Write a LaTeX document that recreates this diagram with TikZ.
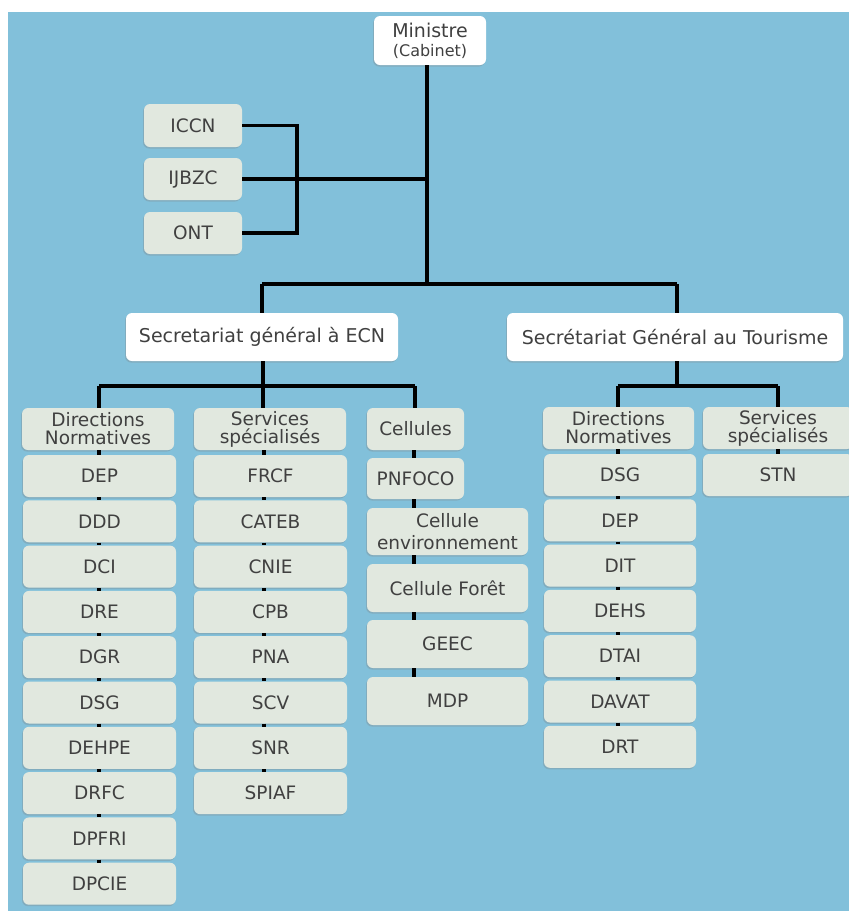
\documentclass[tikz,border=0pt]{standalone}
\usepackage{fontspec}
\setmainfont{DejaVu Sans}
\usetikzlibrary{shadows}
\definecolor{bg}{HTML}{82C0DA}
\definecolor{boxc}{HTML}{E1E8DF}
\definecolor{txt}{HTML}{404040}
\begin{document}
\begin{tikzpicture}[x=1pt,y=-1pt,
  box/.style={rectangle, rounded corners=6pt, fill=boxc, text=txt, align=center,
    inner sep=0pt, font=\fontsize{18.5}{21}\selectfont,
    drop shadow={opacity=0.3, shadow xshift=-1pt, shadow yshift=-1.5pt}},
  wbox/.style={box, fill=white},
  hdr/.style={box, font=\fontsize{18.5}{18}\selectfont},
  conn/.style={line width=3.5pt, black},
  colL/.style={box, minimum width=153pt, minimum height=42pt},
  colS/.style={box, minimum width=153pt, minimum height=42pt},
  colC/.style={box, minimum width=161pt, minimum height=47pt},
  colR/.style={box, minimum width=152pt, minimum height=42pt}]
\useasboundingbox (0,0) rectangle (849,911);
\fill[white] (0,0) rectangle (849,911);
\fill[bg] (8,12) rectangle (849,911);

% top
\node[wbox, minimum width=112pt, minimum height=49pt] (min) at (430,40.5)
  {\fontsize{19}{19}\selectfont Ministre\\[-2pt]\fontsize{16}{17}\selectfont (Cabinet)};
\node[box, minimum width=98pt, minimum height=43pt] (iccn) at (193,125.5) {ICCN};
\node[box, minimum width=98pt, minimum height=42pt] (ijbzc) at (193,179) {IJBZC};
\node[box, minimum width=98pt, minimum height=42pt] (ont) at (193,233) {ONT};
\node[wbox, minimum width=272pt, minimum height=48pt, font=\fontsize{19}{21}\selectfont] (ecn) at (262,337) {Secretariat général à ECN};
\node[wbox, minimum width=336pt, minimum height=48pt, font=\fontsize{19}{21}\selectfont] (sgt) at (675,337) {Secrétariat Général au Tourisme};

% ECN headers
\node[hdr, minimum width=152pt, minimum height=42pt] (dn1) at (98,429) {Directions\\Normatives};
\node[hdr, minimum width=152pt, minimum height=42pt] (ss1) at (270,429) {Services\\spécialisés};
\node[box, minimum width=97pt, minimum height=42pt] (cel) at (415.5,429) {Cellules};

% left column
\foreach \t [count=\i] in {DEP,DDD,DCI,DRE,DGR,DSG,DEHPE,DRFC,DPFRI,DPCIE}{
  \pgfmathsetmacro{\yy}{476+45.3*(\i-1)}
  \node[colL] (L\i) at (99.5,\yy) {\t};
}
% services column
\foreach \t [count=\i] in {FRCF,CATEB,CNIE,CPB,PNA,SCV,SNR,SPIAF}{
  \pgfmathsetmacro{\yy}{476+45.3*(\i-1)}
  \node[colS] (S\i) at (270.5,\yy) {\t};
}
% cellules column
\node[box, minimum width=97pt, minimum height=41pt] (pnfoco) at (415.5,478.5) {PNFOCO};
\node[colC, font=\fontsize{18.5}{22}\selectfont] (celenv) at (447.5,531.5) {Cellule\\environnement};
\node[colC, minimum height=48pt] (celforet) at (447.5,588) {Cellule Forêt};
\node[colC, minimum height=48pt] (geec) at (447.5,644) {GEEC};
\node[colC, minimum height=48pt] (mdp) at (447.5,701) {MDP};

% tourisme
\node[hdr, minimum width=151pt, minimum height=42pt] (dn2) at (618.5,428) {Directions\\Normatives};
\node[hdr, minimum width=150pt, minimum height=42pt] (ss2) at (778,428) {Services\\spécialisés};
\node[box, minimum width=150pt, minimum height=42pt] (stn) at (778,475) {STN};
\foreach \t [count=\i] in {DSG,DEP,DIT,DEHS,DTAI,DAVAT,DRT}{
  \pgfmathsetmacro{\yy}{475+45.3*(\i-1)}
  \node[colR] (R\i) at (620,\yy) {\t};
}

% connectors top
\coordinate (j0) at (427,284);
\coordinate (jecn) at (262,284);
\coordinate (jsgt) at (677,284);
\draw[conn, line width=4pt] (min.south -| j0) -- (j0);
\draw[conn] (jecn) -- (jsgt);
\draw[conn] (jecn) -- (ecn.north -| jecn);
\draw[conn] (jsgt) -- (sgt.north -| jsgt);
\coordinate (kx) at (297,0);
\draw[conn] (iccn.east) -- (iccn.east -| kx) -- (ont.east -| kx) -- (ont.east);
\draw[conn] (ijbzc.east) -- (ijbzc.east -| j0);

% ECN branch
\coordinate (b1) at (263,386);
\draw[conn] (ecn.south -| b1) -- (b1);
\draw[conn] (99,386) -- (415,386);
\draw[conn] (99,386) -- (dn1.north -| 99,0);
\draw[conn] (b1) -- (ss1.north -| b1);
\draw[conn] (415,386) -- (cel.north -| 415,0);

% SGT branch
\coordinate (b2) at (677,386);
\draw[conn] (sgt.south -| b2) -- (b2);
\draw[conn] (618,386) -- (778,386);
\draw[conn] (618,386) -- (dn2.north -| 618,0);
\draw[conn] (778,386) -- (ss2.north -| 778,0);

% stacks
\coordinate (xl) at (99,0);
\coordinate (xs) at (264,0);
\coordinate (xc) at (414,0);
\coordinate (xr) at (618,0);
\coordinate (xt) at (778,0);
\draw[conn] (dn1.south -| xl) -- (L1.north -| xl);
\foreach \i [evaluate=\i as \j using int(\i+1)] in {1,...,9}
  \draw[conn] (L\i.south -| xl) -- (L\j.north -| xl);
\draw[conn] (ss1.south -| xs) -- (S1.north -| xs);
\foreach \i [evaluate=\i as \j using int(\i+1)] in {1,...,7}
  \draw[conn] (S\i.south -| xs) -- (S\j.north -| xs);
\draw[conn] (cel.south -| xc) -- (pnfoco.north -| xc);
\draw[conn] (pnfoco.south -| xc) -- (celenv.north -| xc);
\draw[conn] (celenv.south -| xc) -- (celforet.north -| xc);
\draw[conn] (celforet.south -| xc) -- (geec.north -| xc);
\draw[conn] (geec.south -| xc) -- (mdp.north -| xc);
\draw[conn] (dn2.south -| xr) -- (R1.north -| xr);
\foreach \i [evaluate=\i as \j using int(\i+1)] in {1,...,6}
  \draw[conn] (R\i.south -| xr) -- (R\j.north -| xr);
\draw[conn] (ss2.south -| xt) -- (stn.north -| xt);
\end{tikzpicture}
\end{document}
